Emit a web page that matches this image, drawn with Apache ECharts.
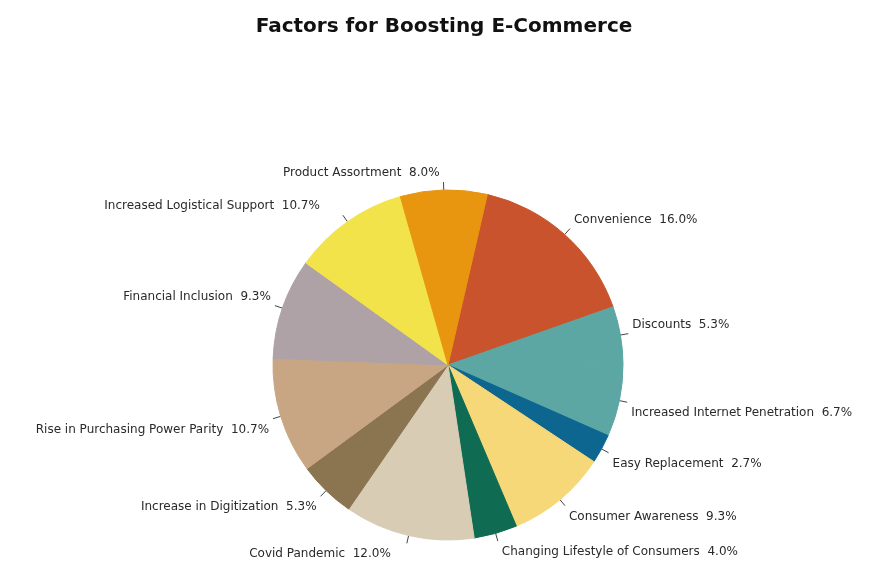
<!DOCTYPE html>
<html>
<head>
<meta charset="utf-8">
<script src="https://cdn.jsdelivr.net/npm/echarts@6/dist/echarts.min.js"></script>
<style>
  html, body { margin: 0; padding: 0; background: #fff; }
  #chart { width: 888px; height: 563px; }
</style>
</head>
<body>
<div id="chart"></div>
<script>
// Share of each factor, clockwise from the top
const categories = [
  'Convenience',
  'Discounts',
  'Increased Internet Penetration',
  'Easy Replacement',
  'Consumer Awareness',
  'Changing Lifestyle of Consumers',
  'Covid Pandemic',
  'Increase in Digitization',
  'Rise in Purchasing Power Parity',
  'Financial Inclusion',
  'Increased Logistical Support',
  'Product Assortment'
];
const shares = [16.0, 5.3, 6.7, 2.7, 9.3, 4.0, 12.0, 5.3, 10.7, 9.3, 10.7, 8.0];
const sliceColors = [
  '#C8532C', '#5CA7A3', '#5CA7A3', '#0C6690', '#F6D879', '#106B53',
  '#D9CCB4', '#8B7450', '#C9A683', '#AEA2A6', '#F2E34B', '#E8950F'
];

const START_ANGLE = 77; // degrees, ECharts convention (90 = 12 o'clock)
const total = shares.reduce((a, b) => a + b, 0);

// Labels sit just above the tick on the upper half and just below it on the lower half
const SHIFT_UP = 9;
const SHIFT_DOWN = 11;
// a few labels are pulled a little further away from their tick
const extraGap = { 'Increased Logistical Support': 19, 'Covid Pandemic': 12 };

let acc = 0;
const upperHalf = shares.map(v => {
  const midFromTop = (90 - START_ANGLE) + (acc + v / 2) / total * 360;
  acc += v;
  return Math.cos(midFromTop * Math.PI / 180) >= 0;
});

const baseText = { fontFamily: 'DejaVu Sans', fontSize: 12, color: '#2a2a2a', lineHeight: 14 };
const rich = {};
categories.forEach((name, i) => {
  const gap = extraGap[name] || 0;
  rich['s' + i] = Object.assign({}, baseText, {
    padding: upperHalf[i] ? [0, gap, 2 * SHIFT_UP, 0] : [2 * SHIFT_DOWN, gap, 0, 0]
  });
});

const chart = echarts.init(document.getElementById('chart'), null, { renderer: 'canvas' });

chart.setOption({
  animation: false,
  backgroundColor: '#ffffff',
  title: {
    text: 'Factors for Boosting E-Commerce',
    left: 'center',
    top: 12,
    textStyle: {
      fontFamily: 'DejaVu Sans',
      fontWeight: 'bold',
      fontSize: 20,
      color: '#111'
    }
  },
  series: [{
    type: 'pie',
    center: [448, 365],
    radius: 175,
    startAngle: START_ANGLE,
    clockwise: true,
    avoidLabelOverlap: false,
    labelLayout: { hideOverlap: false },
    data: categories.map((name, i) => ({
      name: name,
      value: shares[i],
      itemStyle: { color: sliceColors[i], borderColor: sliceColors[i] }
    })),
    itemStyle: { borderWidth: 1 },
    label: {
      show: true,
      position: 'outside',
      formatter: p => '{s' + p.dataIndex + '|' + p.name + '  ' + p.value.toFixed(1) + '%}',
      rich: rich,
      fontFamily: 'DejaVu Sans',
      fontSize: 12,
      color: '#2a2a2a',
      distanceToLabelLine: 4
    },
    labelLine: {
      show: true,
      length: 8,
      length2: 0,
      smooth: false,
      lineStyle: { color: '#444', width: 1 }
    },
    emphasis: { disabled: true }
  }]
});
</script>
</body>
</html>
